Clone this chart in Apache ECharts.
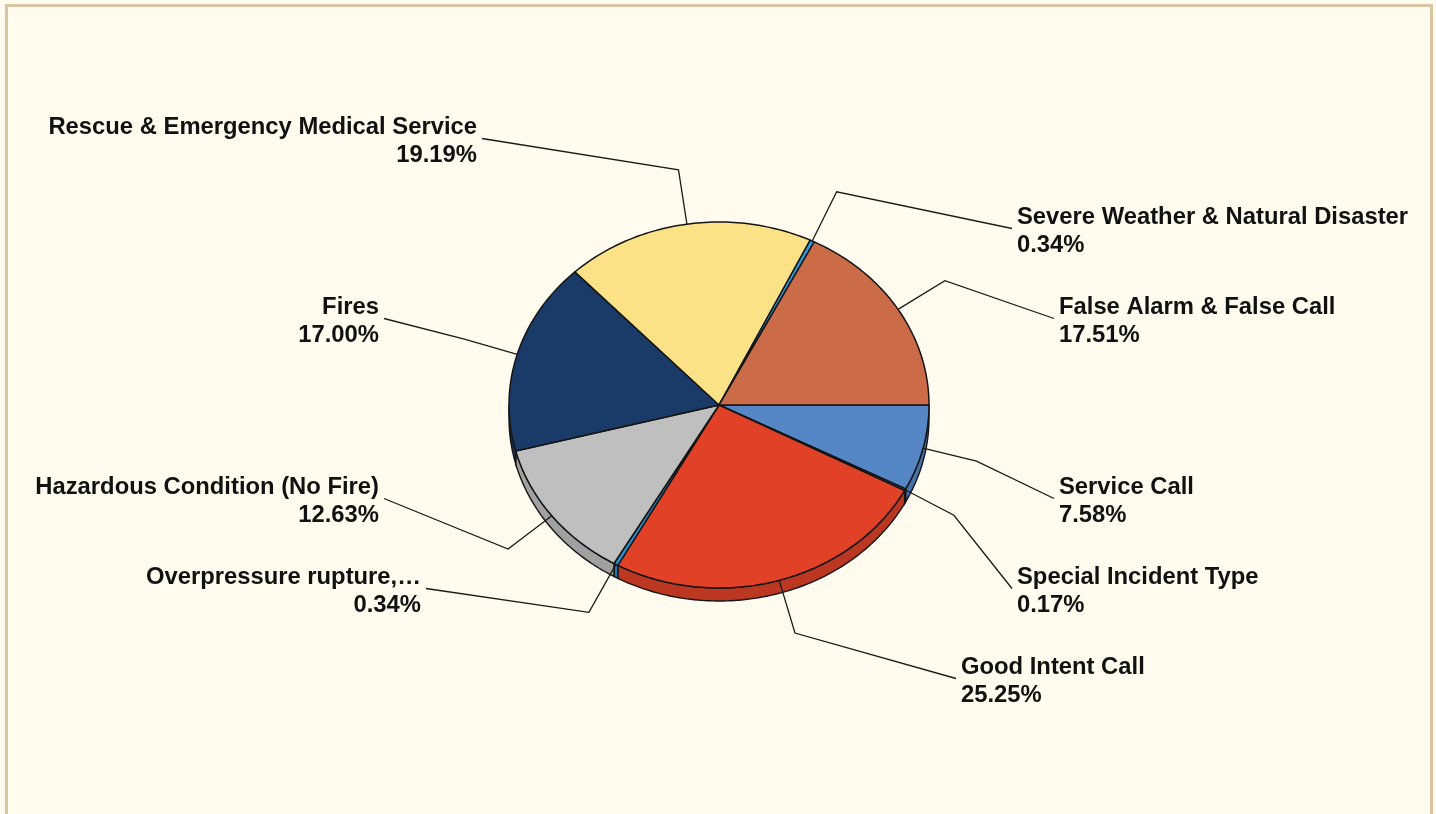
<!DOCTYPE html>
<html>
<head>
<meta charset="utf-8">
<title>Incident Types</title>
<script src="https://cdn.jsdelivr.net/npm/echarts@6/dist/echarts.min.js"></script>
<style>
  html, body { margin: 0; padding: 0; background: #fffbef; overflow: hidden; }
  #frame {
    position: absolute; left: 5px; top: 4px; width: 1428px; height: 840px;
    border: 3px solid #d9c4a4; box-sizing: border-box; background: #fffbef;
  }
  #chart { position: absolute; left: 0; top: 0; width: 1436px; height: 814px; }
</style>
</head>
<body>
<div id="frame"></div>
<div id="chart"></div>
<script>
// incident types, clockwise from 3 o'clock
const categories = [
  'Service Call',
  'Special Incident Type',
  'Good Intent Call',
  'Overpressure rupture,…',
  'Hazardous Condition (No Fire)',
  'Fires',
  'Rescue & Emergency Medical Service',
  'Severe Weather & Natural Disaster',
  'False Alarm & False Call'
];
const percents = [7.58, 0.17, 25.25, 0.34, 12.63, 17.00, 19.19, 0.34, 17.51];

const palette = ['#5586c6', '#1d5c8a', '#e04127', '#2a8fd0', '#bfbfbf', '#1a3b67', '#fbe286', '#2a9ad8', '#cc6b48'];

// tilted pie geometry
const cx = 719, cy = 405, rx = 210, ry = 183, depth = 13;
const leadLen = 55;
const rowGap = 90, rowBase = cy + 3.5;
const textDy = 3;
// |row| -> horizontal distance of the label edge from the centre
const rowOffsetX = [350, 340, 298, 242, 180];

function darken(hex, f) {
  const n = parseInt(hex.slice(1), 16);
  const r = Math.round(((n >> 16) & 255) * f), g = Math.round(((n >> 8) & 255) * f), b = Math.round((n & 255) * f);
  return 'rgb(' + r + ',' + g + ',' + b + ')';
}

function rim(t, dy) {
  return [cx + rx * Math.cos(t), cy + ry * Math.sin(t) + (dy || 0)];
}

function arcPoints(a0, a1, dy) {
  const n = Math.max(2, Math.ceil((a1 - a0) / (Math.PI / 180)));
  const pts = [];
  for (let i = 0; i <= n; i++) pts.push(rim(a0 + (a1 - a0) * i / n, dy));
  return pts;
}

// angles + label rows
function layout() {
  const total = percents.reduce((a, b) => a + b, 0);
  let acc = 0;
  const slices = percents.map((v, i) => {
    const a0 = acc / total * Math.PI * 2;
    acc += v;
    const a1 = acc / total * Math.PI * 2;
    const mid = (a0 + a1) / 2;
    const edge = rim(mid);
    const elbow = [edge[0] + leadLen * Math.cos(mid), edge[1] + leadLen * Math.sin(mid)];
    return { i, a0, a1, mid, edge, elbow, right: Math.cos(mid) >= 0 };
  });
  // assign rows going clockwise from 12 o'clock
  const order = slices.slice().sort((p, q) => {
    const k = s => (s.mid - Math.PI * 1.5 + Math.PI * 4) % (Math.PI * 2);
    return k(p) - k(q);
  });
  const used = { true: {}, false: {} };
  order.forEach(s => {
    const want = (s.elbow[1] - rowBase) / rowGap;
    let best = null;
    for (let r = -4; r <= 4; r++) {
      if (r === 0 || used[s.right][r]) continue;
      if (best === null || Math.abs(r - want) < Math.abs(best - want)) best = r;
    }
    used[s.right][best] = true;
    s.row = best;
    s.ly = rowBase + best * rowGap;
    const off = rowOffsetX[Math.abs(best)];
    s.lx = s.right ? cx + off : cx - off;
  });
  return slices;
}

const slices = layout();
const stroke = '#151515';

function renderSlice(params, api) {
  const s = slices[params.dataIndex];
  const color = palette[s.i];
  const children = [];
  // side wall (front half only)
  const b0 = Math.max(s.a0, 0), b1 = Math.min(s.a1, Math.PI);
  if (b1 > b0) {
    const pts = arcPoints(b0, b1, 0).concat(arcPoints(b0, b1, depth).reverse());
    children.push({
      type: 'polygon', z2: 1,
      shape: { points: pts },
      style: { fill: darken(color, 0.84), stroke: stroke, lineWidth: 1.4 }
    });
  }
  // top face
  children.push({
    type: 'polygon', z2: 10,
    shape: { points: [[cx, cy]].concat(arcPoints(s.a0, s.a1, 0)) },
    style: { fill: color, stroke: stroke, lineWidth: 1.5, lineJoin: 'round' }
  });
  // leader line
  const endX = s.right ? s.lx - 5 : s.lx + 5;
  children.push({
    type: 'polyline', z2: 20,
    shape: { points: [s.edge, s.elbow, [endX, s.ly]] },
    style: { fill: null, stroke: '#1a1a1a', lineWidth: 1.3 }
  });
  children.push({
    type: 'text', z2: 30,
    style: {
      text: categories[s.i] + '\n' + api.value(0).toFixed(2) + '%',
      x: s.lx, y: s.ly + textDy,
      align: s.right ? 'left' : 'right',
      verticalAlign: 'middle',
      font: 'bold 23.8px "Liberation Sans", Arial, sans-serif',
      lineHeight: 28,
      fill: '#111'
    }
  });
  return { type: 'group', children: children };
}

const chart = echarts.init(document.getElementById('chart'));
chart.setOption({
  backgroundColor: 'transparent',
  animation: false,
  series: [{
    type: 'custom',
    coordinateSystem: 'none',
    silent: true,
    data: percents,
    renderItem: renderSlice
  }]
});
window.addEventListener('resize', () => chart.resize());
</script>
</body>
</html>
